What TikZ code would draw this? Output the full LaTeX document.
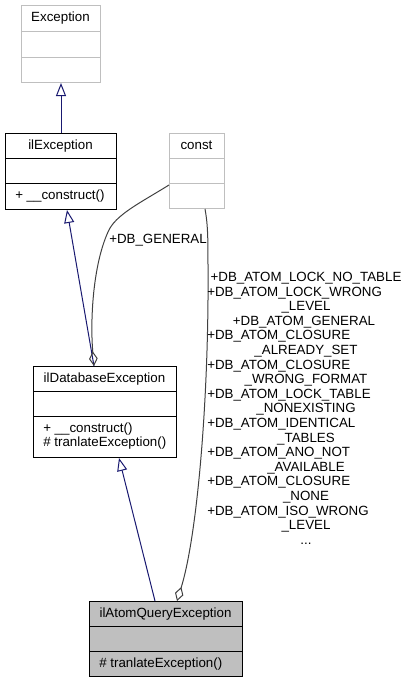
\documentclass[tikz,border=0pt]{standalone}
\usepackage{fontspec}
\setmainfont{Liberation Sans}
\usetikzlibrary{arrows.meta,calc}
\definecolor{gborder}{HTML}{BFBFBF}
\definecolor{navyedge}{HTML}{191970}
\definecolor{edgegray}{HTML}{404040}
\definecolor{hlfill}{HTML}{BFBFBF}
\begin{document}
\begin{tikzpicture}[x=0.75pt,y=-0.75pt,
  font=\fontsize{10}{11}\selectfont,
  cls/.style={draw=black, fill=white, inner sep=0pt, anchor=north west, line width=0.75pt},
  gcls/.style={cls, draw=gborder},
  hcls/.style={cls, fill=hlfill},
  sepline/.style={line width=0.75pt},
  ttl/.style={inner sep=0pt, anchor=mid},
  opstxt/.style={inner sep=0pt, anchor=mid west},
  lbl/.style={inner sep=0pt, anchor=mid},
  lbll/.style={inner sep=0pt, anchor=mid west},
  inh/.style={navyedge, line width=0.75pt, -{Triangle[open,length=9.75pt,width=7.5pt]}},
  agg/.style={edgegray, line width=0.75pt, -{Diamond[open,length=11pt,width=6.5pt]}},
]
\useasboundingbox (0,0) rectangle (409,683);

% Exception
\node[gcls, minimum width=59.25pt, minimum height=57.75pt] (exc) at (21,5) {};
\draw[sepline, gborder] (21,31) -- (100,31) (21,57) -- (100,57);
\node[ttl] (exct) at (60.5,18) {Exception};

% ilException
\node[cls, minimum width=83.25pt, minimum height=57pt] (ilex) at (5,133) {};
\draw[sepline] (5,158) -- (116,158) (5,183) -- (116,183);
\node[ttl] (ilext) at (60.5,146) {ilException};
\node[opstxt] (ilexo) at (15,196) {+ \_\_construct()};

% const
\node[gcls, minimum width=41.25pt, minimum height=56.25pt] (cst) at (169,133) {};
\draw[sepline, gborder] (169,158) -- (224,158) (169,183) -- (224,183);
\node[ttl] (cstt) at (196.5,146) {const};

% ilDatabaseException
\node[cls, minimum width=107.25pt, minimum height=68.25pt] (idb) at (33,366) {};
\draw[sepline] (33,391) -- (176,391) (33,416) -- (176,416);
\node[ttl] (idbt) at (104.5,379) {ilDatabaseException};
\node[opstxt] (idbo1) at (43,429) {+ \_\_construct()};
\node[opstxt] (idbo2) at (43,443) {\# tranlateException()};

% ilAtomQueryException
\node[hcls, minimum width=114.75pt, minimum height=56.25pt] (iaq) at (89,601) {};
\draw[sepline] (89,626) -- (242,626) (89,651) -- (242,651);
\node[ttl] (iaqt) at (165.5,614) {ilAtomQueryException};
\node[opstxt] (iaqo) at (99,664) {\# tranlateException()};

% inheritance
\draw[inh] (ilex.north) -- (exc.south);
\draw[inh] ($(idb.north west)+(61,0)$) -- ($(ilex.south west)+(62,0)$);
\draw[inh] ($(iaq.north west)+(66,0)$) -- ($(idb.south west)+(86,0)$);

% aggregation DB_GENERAL
\draw[agg] ($(cst.north west)+(0,52)$) .. controls (140,203) and (115,215) .. (108,232)
  .. controls (93,265) and (90,320) .. ($(idb.north west)+(61,0)$);
\node[lbl] (lg) at (158,240) {+DB\_GENERAL};

% aggregation const -> ilAtomQueryException
\draw[agg] ($(cst.south west)+(36,0)$) .. controls (208,225) and (208,240) .. (208,270)
  -- (208,300) .. controls (207,420) and (196,540) .. ($(iaq.north west)+(88,0)$);

\node[lbl]  (l1)  at (306,278.0) {+DB\_ATOM\_LOCK\_NO\_TABLE};
\node[lbll] (l2)  at (207,292.6) {+DB\_ATOM\_LOCK\_WRONG};
\node[lbl]  (l3)  at (306,307.2) {\_LEVEL};
\node[lbl]  (l4)  at (304,321.8) {+DB\_ATOM\_GENERAL};
\node[lbll] (l5)  at (207,336.4) {+DB\_ATOM\_CLOSURE};
\node[lbl]  (l6)  at (306,351.0) {\_ALREADY\_SET};
\node[lbll] (l7)  at (207,365.6) {+DB\_ATOM\_CLOSURE};
\node[lbl]  (l8)  at (306,380.2) {\_WRONG\_FORMAT};
\node[lbll] (l9)  at (207,394.8) {+DB\_ATOM\_LOCK\_TABLE};
\node[lbl]  (l10) at (306,409.4) {\_NONEXISTING};
\node[lbll] (l11) at (207,424.0) {+DB\_ATOM\_IDENTICAL};
\node[lbl]  (l12) at (306,438.6) {\_TABLES};
\node[lbll] (l13) at (207,453.2) {+DB\_ATOM\_ANO\_NOT};
\node[lbl]  (l14) at (306,467.8) {\_AVAILABLE};
\node[lbll] (l15) at (207,482.4) {+DB\_ATOM\_CLOSURE};
\node[lbl]  (l16) at (306,497.0) {\_NONE};
\node[lbll] (l17) at (207,511.6) {+DB\_ATOM\_ISO\_WRONG};
\node[lbl]  (l18) at (306,526.2) {\_LEVEL};
\node[lbl]  (l19) at (306,540.8) {...};
\end{tikzpicture}
\end{document}
